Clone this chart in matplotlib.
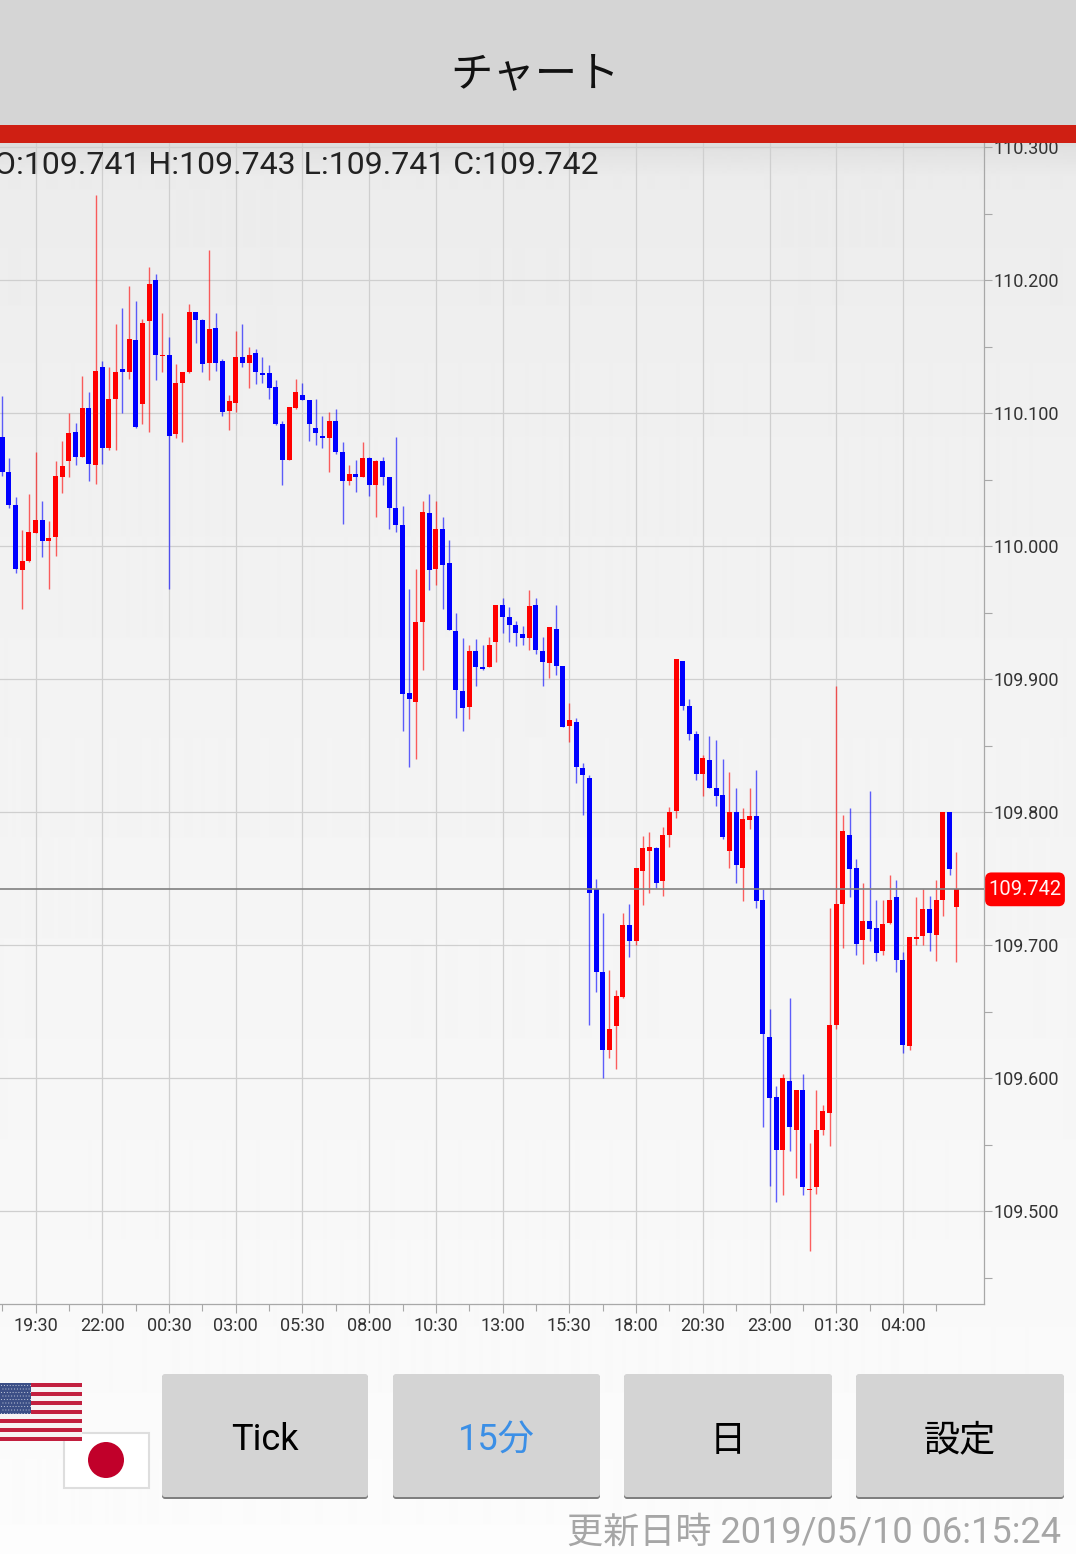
import numpy as np
import matplotlib
matplotlib.use("Agg")
import matplotlib.pyplot as plt
from matplotlib.patches import Rectangle, FancyBboxPatch, Circle
from matplotlib.ticker import MultipleLocator, FixedLocator, FixedFormatter

plt.rcParams['font.family'] = ['Roboto', 'Noto Sans CJK JP', 'DejaVu Sans']

first_index = -5
opens = [110.082,110.056,110.031,109.982,109.989,110.010,110.020,110.004,110.007,110.052,
 110.064,110.086,110.067,110.104,110.061,110.135,110.074,110.111,110.133,110.131,
 110.155,110.107,110.169,110.200,110.143,110.144,110.084,110.123,110.131,110.176,
 110.170,110.138,110.164,110.139,110.102,110.108,110.142,110.138,110.145,110.130,
 110.130,110.120,110.092,110.065,110.104,110.114,110.110,110.089,110.083,110.081,
 110.094,110.071,110.049,110.054,110.052,110.066,110.046,110.064,110.052,110.029,
 110.016,109.890,109.883,109.943,110.025,109.983,110.013,109.987,109.936,109.891,
 109.879,109.921,109.909,109.909,109.928,109.956,109.947,109.941,109.934,109.931,
 109.956,109.921,109.912,109.938,109.910,109.865,109.868,109.833,109.826,109.742,
 109.680,109.621,109.639,109.661,109.715,109.703,109.756,109.771,109.773,109.748,
 109.783,109.801,109.914,109.880,109.859,109.829,109.839,109.818,109.813,109.771,
 109.800,109.758,109.794,109.797,109.734,109.631,109.586,109.546,109.598,109.561,
 109.591,109.516,109.518,109.561,109.574,109.640,109.731,109.783,109.758,109.704,
 109.718,109.713,109.696,109.717,109.736,109.689,109.624,109.705,109.707,109.727,
 109.708,109.734,109.800,109.729]
closes = [110.056,110.031,109.983,109.989,110.011,110.020,110.004,110.006,110.053,110.060,
 110.085,110.067,110.104,110.062,110.132,110.074,110.111,110.131,110.131,110.156,
 110.090,110.168,110.197,110.144,110.144,110.083,110.123,110.131,110.176,110.170,
 110.137,110.163,110.138,110.101,110.109,110.142,110.138,110.144,110.131,110.129,
 110.119,110.092,110.065,110.105,110.116,110.110,110.092,110.085,110.081,110.094,
 110.071,110.049,110.054,110.052,110.066,110.046,110.064,110.052,110.029,110.016,
 109.889,109.885,109.943,110.026,109.982,110.013,109.986,109.937,109.892,109.878,
 109.921,109.909,109.908,109.926,109.956,109.947,109.941,109.935,109.931,109.955,
 109.922,109.913,109.939,109.910,109.864,109.869,109.834,109.828,109.739,109.680,
 109.621,109.637,109.662,109.715,109.703,109.758,109.773,109.774,109.747,109.783,
 109.800,109.915,109.880,109.859,109.829,109.841,109.818,109.812,109.781,109.800,
 109.760,109.795,109.797,109.733,109.633,109.585,109.546,109.600,109.563,109.591,
 109.518,109.517,109.561,109.575,109.640,109.731,109.786,109.757,109.701,109.718,
 109.712,109.694,109.716,109.734,109.689,109.625,109.706,109.706,109.727,109.709,
 109.734,109.800,109.757,109.742]
highs = [110.113,110.066,110.037,110.012,110.039,110.071,110.034,110.019,110.064,110.079,
 110.100,110.093,110.128,110.116,110.264,110.139,110.135,110.167,110.179,110.196,
 110.184,110.171,110.210,110.205,110.175,110.157,110.137,110.131,110.182,110.176,
 110.171,110.223,110.175,110.141,110.114,110.162,110.167,110.150,110.148,110.142,
 110.136,110.125,110.094,110.105,110.126,110.123,110.110,110.111,110.098,110.101,
 110.103,110.078,110.061,110.065,110.078,110.067,110.065,110.067,110.052,110.082,
 110.030,109.968,109.983,110.034,110.039,110.034,110.022,110.005,109.950,109.931,
 109.926,109.930,109.926,109.932,109.956,109.961,109.954,109.944,109.940,109.967,
 109.961,109.932,109.939,109.956,109.910,109.882,109.871,109.837,109.828,109.750,
 109.724,109.681,109.666,109.724,109.731,109.758,109.782,109.785,109.774,109.789,
 109.804,109.915,109.914,109.885,109.861,109.843,109.857,109.854,109.840,109.830,
 109.818,109.803,109.818,109.832,109.742,109.652,109.594,109.603,109.660,109.591,
 109.603,109.551,109.591,109.580,109.728,109.895,109.798,109.803,109.765,109.747,
 109.816,109.734,109.734,109.753,109.749,109.695,109.706,109.736,109.742,109.737,
 109.749,109.800,109.800,109.770]
lows = [110.053,110.029,109.980,109.953,109.988,110.010,109.992,109.968,109.993,110.040,
 110.052,110.061,110.067,110.049,110.047,110.062,110.072,110.072,110.100,110.126,
 110.089,110.092,110.086,110.125,110.131,109.968,110.081,110.078,110.130,110.153,
 110.131,110.125,110.132,110.098,110.087,110.101,110.135,110.119,110.122,110.123,
 110.111,110.091,110.046,110.065,110.103,110.110,110.079,110.076,110.074,110.056,
 110.069,110.017,110.046,110.041,110.052,110.038,110.022,110.046,110.013,110.011,
 109.861,109.834,109.840,109.907,109.967,109.971,109.953,109.937,109.871,109.861,
 109.870,109.895,109.907,109.909,109.913,109.935,109.928,109.925,109.926,109.922,
 109.919,109.895,109.901,109.903,109.864,109.853,109.822,109.798,109.640,109.665,
 109.600,109.615,109.607,109.660,109.691,109.700,109.730,109.739,109.743,109.737,
 109.774,109.796,109.877,109.854,109.824,109.812,109.818,109.805,109.780,109.758,
 109.747,109.733,109.787,109.728,109.563,109.519,109.507,109.512,109.545,109.525,
 109.512,109.470,109.513,109.557,109.549,109.637,109.698,109.736,109.693,109.686,
 109.703,109.688,109.693,109.716,109.680,109.619,109.621,109.700,109.700,109.696,
 109.688,109.722,109.753,109.687]
last_price = 109.742

time_labels = ['19:30','22:00','00:30','03:00','05:30','08:00','10:30','13:00',
               '15:30','18:00','20:30','23:00','01:30','04:00']
time_index = [0,10,20,30,40,50,60,70,80,90,100,110,120,130]
half_index = [-5,5,15,25,35,45,55,65,75,85,95,105,115,125,135]
price_ticks = [109.5,109.6,109.7,109.8,109.9,110.0,110.1,110.2,110.3]
ohlc_caption = 'O:109.741 H:109.743 L:109.741 C:109.742'
buttons = ['Tick', '15分', '日', '設定']
updated = '更新日時 2019/05/10 06:15:24'
title = 'チャート'

W, H = 1076, 1554
fig = plt.figure(figsize=(W/100, H/100), dpi=100)

# page background
bg = fig.add_axes([0, 0, 1, 1], zorder=0)
bg.axis('off')
rows = np.arange(H)
grey = np.interp(rows, [0,143,150,178,400,1300,1554], [0.90,0.865,0.885,0.925,0.94,0.975,0.99])
bg.imshow(grey[:, None], cmap='gray', vmin=0, vmax=1, aspect='auto', extent=[0, W, H, 0], interpolation='bilinear')

# chart
SPINE_X, AX_TOP, AX_BOT = 984.0, 125.0, 1304.0
X0 = 35.6
ax = fig.add_axes([0, 1-AX_BOT/H, SPINE_X/W, (AX_BOT-AX_TOP)/H], zorder=1)
ax.patch.set_alpha(0)
PX_C = 6.672
PX_P = 1330.0
Y_REF = 280.2
ax.set_xlim(-X0/PX_C, (SPINE_X-X0)/PX_C)
ax.set_ylim(110.2-(AX_BOT-Y_REF)/PX_P, 110.2-(AX_TOP-Y_REF)/PX_P)

o = np.array(opens); c = np.array(closes); hi = np.array(highs); lo = np.array(lows)
x = np.arange(len(o)) + first_index
up = c >= o
col = np.where(up, '#ff0000', '#0000ff')
ax.vlines(x, lo, hi, colors=col, lw=1.0, alpha=0.62, zorder=3)
ax.bar(x, np.abs(c-o), bottom=np.minimum(o, c), width=5.0/PX_C, color=col, lw=0, zorder=4)

ax.xaxis.set_major_locator(FixedLocator(time_index))
ax.xaxis.set_major_formatter(FixedFormatter(time_labels))
ax.xaxis.set_minor_locator(FixedLocator(half_index))
ax.yaxis.set_major_locator(FixedLocator(price_ticks))
ax.yaxis.set_minor_locator(MultipleLocator(0.05))
ax.yaxis.tick_right()
ax.set_yticklabels([f'{p:.3f}' for p in price_ticks])
ax.grid(True, which='major', color='#cfcfcf', lw=0.9, zorder=1)
ax.set_axisbelow(True)
for s in ('left', 'top'):
    ax.spines[s].set_visible(False)
for s in ('right', 'bottom'):
    ax.spines[s].set_color('#a8a8a8')
    ax.spines[s].set_linewidth(0.9)
ax.tick_params(axis='x', which='major', length=6.5, width=0.8, color='#a8a8a8', labelsize=13, labelcolor='#333333', pad=3.2)
ax.tick_params(axis='x', which='minor', length=5, width=0.8, color='#a8a8a8')
ax.tick_params(axis='y', which='major', length=5.5, width=0.8, color='#a8a8a8', labelsize=13, labelcolor='#333333', pad=1.2)
ax.tick_params(axis='y', which='minor', length=5.5, width=0.8, color='#a8a8a8')
ax.axhline(last_price, color='#808080', lw=1.2, zorder=5)

# chrome overlay in pixels
ov = fig.add_axes([0, 0, 1, 1], zorder=2)
ov.set_xlim(0, W); ov.set_ylim(H, 0); ov.axis('off'); ov.patch.set_alpha(0)
ov.add_patch(Rectangle((0, 0), W, 125, fc='#d5d5d5', lw=0))
ov.add_patch(Rectangle((0, 125), W, 18, fc='#cf1f13', lw=0))
ov.text(535, 75, title, ha='center', va='center', fontsize=30.5, color='#111111')
ov.text(-5.5, 165, ohlc_caption, ha='left', va='center', fontsize=23, color='#222222')

py = Y_REF + (110.2-last_price)*PX_P
ov.add_patch(FancyBboxPatch((986.5, py-15.5), 77, 31, boxstyle='round,pad=0,rounding_size=5', fc='#ff0000', lw=2, ec='#ff0000'))
ov.text(1024.5, py, f'{last_price:.3f}', ha='center', va='center', fontsize=14.5, color='#fff4f4')

# flags
ov.add_patch(Rectangle((64, 1433), 85, 55, fc='white', ec='#dedede', lw=1.5))
ov.add_patch(Circle((106, 1460), 18, fc='#c1002a', lw=0))
uy0, uy1 = 1383.0, 1441.0
sh = (uy1-uy0)/13
for k in range(13):
    ov.add_patch(Rectangle((0, uy0+k*sh), 82, sh, fc='#c21f3f' if k % 2 == 0 else '#f7f3f4', lw=0))
ov.add_patch(Rectangle((0, uy0), 31, 7*sh, fc='#3c4f86', lw=0))
for row in range(9):
    for col_ in range(11 - (row % 2)):
        ov.add_patch(Circle((1.5+col_*2.9+(row % 2)*1.45, uy0+2.5+row*3.5), 0.55, fc='#c9cfe0', lw=0))

# buttons
bx = [(162, 368), (393, 600), (624, 832), (856, 1064)]
bc = ['#000000', '#3b8fe6', '#000000', '#000000']
for (a, b), t, tc in zip(bx, buttons, bc):
    ov.add_patch(FancyBboxPatch((a, 1375), b-a, 124, boxstyle='round,pad=0,rounding_size=3', fc='#7f7f7f', lw=0))
    ov.add_patch(FancyBboxPatch((a, 1374), b-a, 123, boxstyle='round,pad=0,rounding_size=3', fc='#d4d4d4', lw=0))
    ov.text((a+b)/2, 1440.5, t, ha='center', va='center', fontsize=26, color=tc)
ov.text(1061, 1533, updated, ha='right', va='center', fontsize=26, color='#a6a6a6')

fig.savefig('out.png', dpi=100)
